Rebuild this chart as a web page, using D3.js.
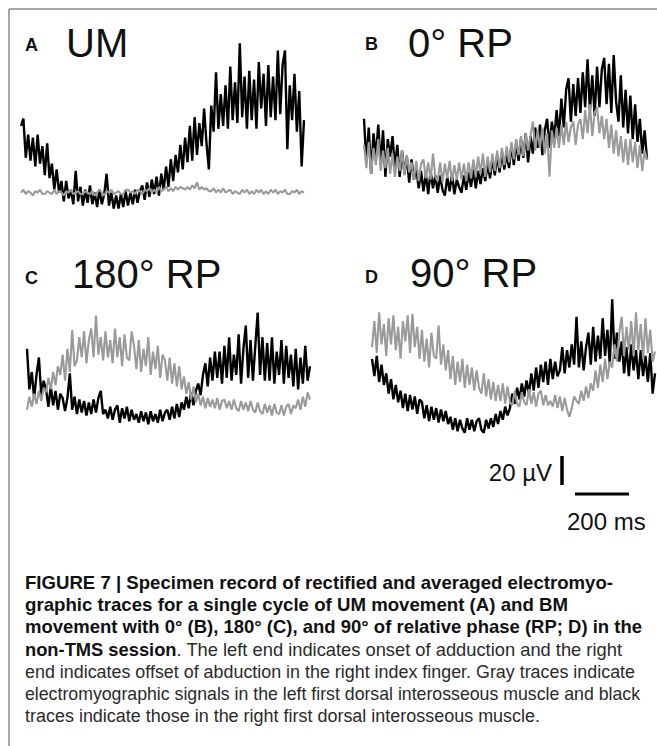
<!DOCTYPE html>
<html>
<head>
<meta charset="utf-8">
<script src="https://cdn.jsdelivr.net/npm/d3@7"></script>
<style>
  html, body { margin: 0; padding: 0; background: #fff; }
  svg { display: block; }
  text { font-family: "Liberation Sans", Arial, Helvetica, sans-serif; }
  text.cap { font-family: "Liberation Sans Narrow", "Arial Narrow", "Liberation Sans", Arial, sans-serif; }
</style>
</head>
<body>
<svg id="chart" width="657" height="746"></svg>
<script>
// ---------- DATA (µV, rectified & averaged EMG, one movement cycle) ----------
const panelLetters = ["A", "B", "C", "D"];
const panelTitles = ["UM", "0° RP", "180° RP", "90° RP"];

// Panel A: UM
const umBlack = [58,63,36,52,34,50,30,52,32,44,24,46,22,32,14,28,12,20,6,20,8,
  14,4,27,6,16,3,14,5,17,4,12,2,14,4,11,25,3,12,1,10,1,11,2,13,3,12,4,14,5,13,
  17,7,19,9,21,11,23,10,25,14,30,16,35,20,38,26,45,28,50,33,58,34,64,38,60,
  44,70,46,28,72,54,95,56,80,58,86,56,99,62,88,60,115,64,92,56,96,62,90,56,102,
  70,94,58,100,64,92,62,110,66,100,110,42,86,62,94,54,82,30,62];
const umGray = [12,14,11,13,12,10,13,12,14,11,11,13,12,11,14,11,13,12,10,13,
  12,14,11,12,13,11,11,13,12,11,13,10,12,14,12,10,13,12,14,11,
  12,13,11,11,14,14,12,13,11,14,13,11,14,13,15,12,14,12,16,13,
  14,16,13,15,13,16,14,16,15,14,16,14,17,15,19,14,16,14,15,13,
  13,15,12,14,12,15,12,13,14,11,13,12,11,14,12,14,11,13,11,14,
  12,14,11,13,11,14,12,14,11,13,12,14,11,11,13,12,14,11,13,12];

// Panel B: 0° RP
const rp0Black = [56,26,50,18,46,30,52,24,48,16,42,30,44,22,38,16,34,18,30,12,28,
  14,22,8,20,6,18,4,20,8,17,5,17,7,3,16,6,18,4,14,9,
  5,17,7,19,9,21,8,20,11,22,13,25,15,29,17,31,19,33,21,32,
  22,38,24,40,27,42,29,46,26,44,32,50,36,52,31,48,56,36,54,42,
  62,44,70,50,76,84,54,80,58,84,60,88,64,97,62,86,58,92,64,90,
  98,66,94,60,100,68,54,86,50,76,46,72,42,66,40,56,32,48,28];
const rp0Gray = [38,22,40,18,36,24,42,20,34,22,36,18,32,16,30,20,34,17,31,19,26,
  14,27,13,25,28,15,26,14,32,16,13,26,12,25,15,27,13,24,14,26,
  14,25,13,26,15,28,16,30,18,32,16,30,19,32,20,34,22,36,24,37,
  26,40,28,42,31,44,30,46,34,44,54,34,48,36,50,32,46,16,48,36,
  50,36,52,38,54,40,50,54,38,52,56,42,62,46,66,44,60,64,46,58,
  42,56,36,52,32,48,30,44,26,42,24,42,26,40,22,38,20,34,28];

// Panel C: 180° RP
const rp180Black = [56,28,40,22,38,50,24,34,28,16,30,17,27,14,25,22,13,22,39,14,23,
  11,21,12,20,10,19,11,21,12,22,27,11,14,8,16,7,14,17,5,15,8,16,6,14,7,
  11,5,13,6,12,4,13,6,11,5,14,6,12,14,7,16,8,18,9,19,14,23,15,26,17,27,
  32,24,38,46,30,50,34,54,36,54,32,58,36,64,34,52,38,66,32,56,
  72,36,62,34,58,81,38,64,34,60,34,64,32,54,38,62,32,58,36,
  52,30,56,28,50,32,58,34,44];
const rp180Gray = [14,23,16,25,18,27,20,29,26,36,28,40,31,44,38,52,34,56,40,69,44,
  48,64,50,68,46,62,70,50,79,52,64,48,68,50,62,46,70,50,64,44,66,50,48,68,
  58,42,62,40,56,44,64,38,54,42,58,36,52,48,34,50,32,46,30,44,28,
  37,25,33,21,30,19,25,17,23,15,22,
  16,21,15,22,14,20,21,15,20,14,21,15,13,20,14,19,13,20,14,
  12,19,13,11,18,12,17,10,18,12,11,17,10,16,18,11,17,15,21,14,23,16,26,21];

// Panel D: 90° RP
const rp90Black = [56,44,58,40,52,38,46,32,42,28,38,26,34,22,32,20,31,21,30,18,28,
  26,15,24,13,23,14,22,12,21,13,20,11,
  16,7,15,6,14,8,5,15,7,14,6,13,15,7,5,14,8,15,
  9,18,11,20,14,23,17,22,32,25,36,28,39,30,41,
  32,46,34,50,36,52,40,54,38,56,42,54,44,
  48,64,46,62,50,66,52,85,50,68,48,64,
  74,52,78,54,72,56,84,58,76,52,97,56,74,54,
  68,46,64,44,66,48,62,42,62,44,58,40,60,32,46];
const rp90Gray = [64,82,60,88,66,80,58,84,66,86,62,78,56,82,68,86,60,87,64,78,
  56,76,54,70,50,74,58,56,79,52,66,48,62,
  42,58,38,54,40,56,36,52,38,50,34,48,36,
  32,46,30,42,28,40,27,38,27,39,25,37,26,
  24,34,25,23,33,26,24,35,25,33,23,32,34,24,31,
  24,27,23,31,22,30,20,29,21,16,
  22,30,27,25,34,27,37,29,39,
  34,48,36,52,40,56,42,54,
  50,66,54,74,85,58,78,62,
  82,58,88,62,80,56,84,60,76,54,61];

// Scale bars
const scaleAmp = 20;   // µV
const scaleTime = 200; // ms
const scaleAmpLabel = "20 µV";
const scaleTimeLabel = "200 ms";

const captionLines = [
  [{t: "FIGURE 7 | Specimen record of rectified and averaged electromyo-", b: true}],
  [{t: "graphic traces for a single cycle of UM movement (A) and BM", b: true}],
  [{t: "movement with 0° (B), 180° (C), and 90° of relative phase (RP; D) in the", b: true}],
  [{t: "non-TMS session", b: true}, {t: ". The left end indicates onset of adduction and the right", b: false}],
  [{t: "end indicates offset of abduction in the right index finger. Gray traces indicate", b: false}],
  [{t: "electromyographic signals in the left first dorsal interosseous muscle and black", b: false}],
  [{t: "traces indicate those in the right first dorsal interosseous muscle.", b: false}]
];

// ---------- LAYOUT ----------
const svg = d3.select("#chart");
const pxPer20uV = 29;
const BLACK = "#000";
const GRAY = "#9a9a9a";

// frame
svg.append("line").attr("x1", 9).attr("y1", 9).attr("x2", 657).attr("y2", 9)
  .attr("stroke", "#8a8a8a").attr("stroke-width", 1.5);
svg.append("line").attr("x1", 9).attr("y1", 9).attr("x2", 9).attr("y2", 746)
  .attr("stroke", "#8a8a8a").attr("stroke-width", 1.5);

const panels = [
  {black: umBlack,    gray: umGray,    x0: 21,  x1: 304, y0: 210, lx: 25,  ly: 51,  tx: 66,  ty: 57},
  {black: rp0Black,   gray: rp0Gray,   x0: 364, x1: 647, y0: 200, lx: 365, ly: 50,  tx: 408, ty: 57},
  {black: rp180Black, gray: rp180Gray, x0: 27,  x1: 310, y0: 430, lx: 25,  ly: 284, tx: 72,  ty: 288},
  {black: rp90Black,  gray: rp90Gray,  x0: 372, x1: 655, y0: 440, lx: 365, ly: 283, tx: 410, ty: 287}
];

panels.forEach((p, k) => {
  const g = svg.append("g");
  const x = d3.scaleLinear().domain([0, p.black.length - 1]).range([p.x0, p.x1]);
  const y = d3.scaleLinear().domain([0, scaleAmp]).range([p.y0, p.y0 - pxPer20uV]);
  const line = d3.line().x((d, i) => x(i)).y(d => y(d));
  g.append("path").datum(p.black).attr("d", line)
    .attr("fill", "none").attr("stroke", BLACK).attr("stroke-width", 2.4)
    .attr("stroke-linejoin", "bevel");
  const xg = d3.scaleLinear().domain([0, p.gray.length - 1]).range([p.x0, p.x1]);
  const lineG = d3.line().x((d, i) => xg(i)).y(d => y(d));
  g.append("path").datum(p.gray).attr("d", lineG)
    .attr("fill", "none").attr("stroke", GRAY).attr("stroke-width", 2.1)
    .attr("stroke-linejoin", "bevel");

  g.append("text").attr("x", p.lx).attr("y", p.ly).text(panelLetters[k])
    .attr("font-size", 18).attr("font-weight", "bold").attr("fill", "#111");
  g.append("text").attr("x", p.tx).attr("y", p.ty).text(panelTitles[k])
    .attr("font-size", 40).attr("fill", "#111");
});

// scale bars
const yBar = d3.scaleLinear().domain([0, scaleAmp]).range([485, 456]);
const xBar = d3.scaleLinear().domain([0, scaleTime]).range([575, 629]);
svg.append("line").attr("x1", 562).attr("x2", 562).attr("y1", yBar(0)).attr("y2", yBar(scaleAmp))
  .attr("stroke", "#000").attr("stroke-width", 3.5);
svg.append("line").attr("x1", xBar(0)).attr("x2", xBar(scaleTime)).attr("y1", 494).attr("y2", 494)
  .attr("stroke", "#000").attr("stroke-width", 3);
svg.append("text").attr("x", 552).attr("y", 481).attr("text-anchor", "end")
  .attr("font-size", 24).attr("fill", "#111").text(scaleAmpLabel);
svg.append("text").attr("x", 567).attr("y", 530)
  .attr("font-size", 24).attr("fill", "#111").text(scaleTimeLabel);

// caption
const capX = 25, capY0 = 589, capDy = 22.2, capFont = 18.5;
const capRight = [613, 568, 642, 622, 635, 640, 540];
captionLines.forEach((segs, i) => {
  const t = svg.append("text").attr("class", "cap").attr("x", capX).attr("y", capY0 + i * capDy)
    .attr("font-size", capFont).attr("fill", "#1a1a1a");
  segs.forEach(s => {
    t.append("tspan").text(s.t)
      .attr("font-weight", s.b ? "bold" : "normal")
      .attr("fill", s.b ? "#111" : "#2a2a2a");
  });
  const target = capRight[i] - capX;
  const w = t.node().getComputedTextLength();
  if (w > target) t.attr("font-size", capFont * target / w);
  t.attr("textLength", target).attr("lengthAdjust", "spacingAndGlyphs");
});
</script>
</body>
</html>
